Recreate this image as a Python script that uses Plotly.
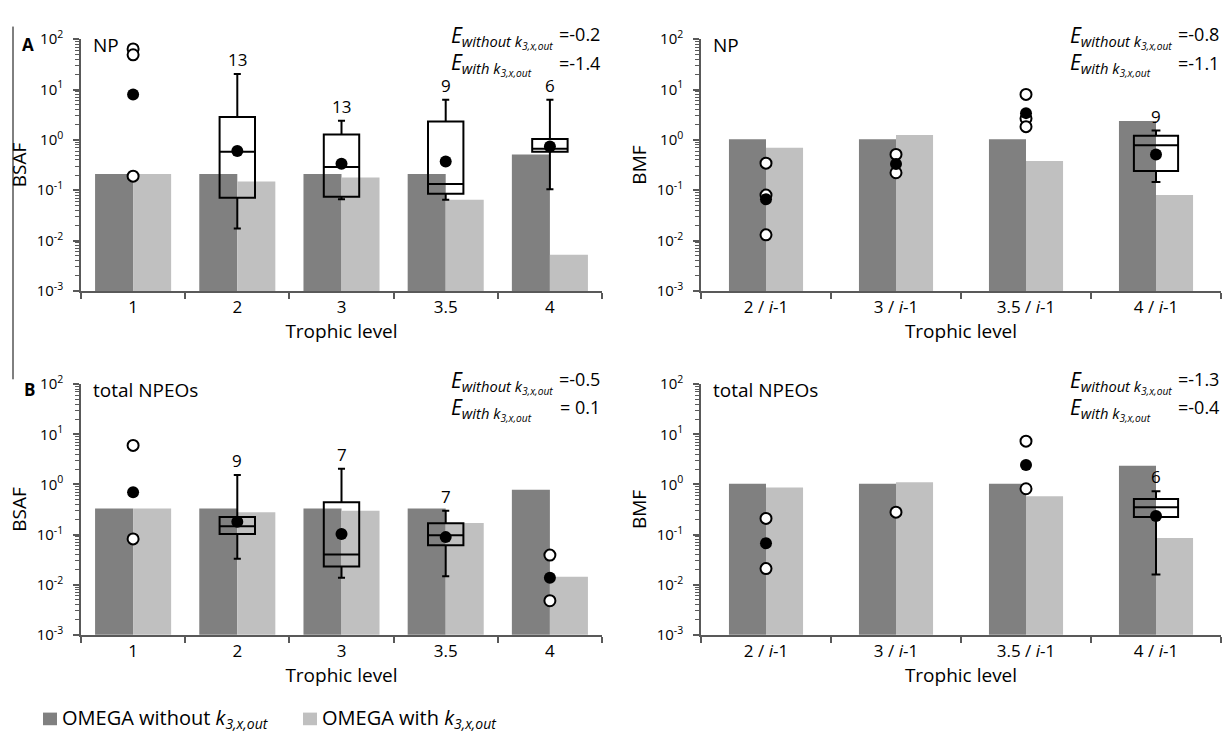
import math
import plotly.graph_objects as go

W, H = 1224, 742

# ---------------- data ----------------
cats_bsaf = ["1", "2", "3", "3.5", "4"]
cats_bmf = ["2 / <i>i</i>-1", "3 / <i>i</i>-1", "3.5 / <i>i</i>-1", "4 / <i>i</i>-1"]
ytick_vals = [1e-3, 1e-2, 1e-1, 1e0, 1e1, 1e2]
ytick_text = ["10<sup>-3</sup>", "10<sup>-2</sup>", "10<sup>-1</sup>",
              "10<sup>0</sup>", "10<sup>1</sup>", "10<sup>2</sup>"]

# A, left: NP BSAF
np_bsaf_without = [0.21, 0.21, 0.21, 0.21, 0.51]
np_bsaf_with = [0.21, 0.149, 0.178, 0.065, 0.0052]
np_bsaf_box_cats = ["2", "3", "3.5", "4"]
np_bsaf_q1 = [0.071, 0.074, 0.085, 0.58]
np_bsaf_median = [0.58, 0.29, 0.133, 0.67]
np_bsaf_q3 = [2.84, 1.28, 2.31, 1.04]
np_bsaf_low = [0.0174, 0.066, 0.065, 0.105]
np_bsaf_high = [20.4, 2.41, 6.28, 6.28]
np_bsaf_n = [13, 13, 9, 6]
np_bsaf_mean_cats = ["1", "2", "3", "3.5", "4"]
np_bsaf_mean = [8.0, 0.60, 0.336, 0.37, 0.74]
np_bsaf_open_cats = ["1", "1", "1"]
np_bsaf_open = [64, 49, 0.19]

# A, right: NP BMF
np_bmf_without = [1.03, 1.03, 1.03, 2.38]
np_bmf_with = [0.70, 1.25, 0.38, 0.080]
np_bmf_box_cats = [cats_bmf[3]]
np_bmf_q1 = [0.24]
np_bmf_median = [0.78]
np_bmf_q3 = [1.21]
np_bmf_low = [0.145]
np_bmf_high = [1.53]
np_bmf_n = [9]
np_bmf_mean_cats = [cats_bmf[0], cats_bmf[1], cats_bmf[2], cats_bmf[3]]
np_bmf_mean = [0.066, 0.33, 3.4, 0.51]
np_bmf_open_cats = [cats_bmf[0], cats_bmf[0], cats_bmf[0], cats_bmf[1], cats_bmf[1],
                    cats_bmf[2], cats_bmf[2], cats_bmf[2]]
np_bmf_open = [0.345, 0.08, 0.013, 0.515, 0.222, 8.0, 2.65, 1.83]

# B, left: total NPEOs BSAF
npeo_bsaf_without = [0.33, 0.33, 0.33, 0.33, 0.78]
npeo_bsaf_with = [0.33, 0.28, 0.30, 0.17, 0.0145]
npeo_bsaf_box_cats = ["2", "3", "3.5"]
npeo_bsaf_q1 = [0.103, 0.0232, 0.061]
npeo_bsaf_median = [0.146, 0.040, 0.097]
npeo_bsaf_q3 = [0.225, 0.44, 0.168]
npeo_bsaf_low = [0.033, 0.0138, 0.0147]
npeo_bsaf_high = [1.55, 2.05, 0.30]
npeo_bsaf_n = [9, 7, 7]
npeo_bsaf_mean_cats = ["1", "2", "3", "3.5", "4"]
npeo_bsaf_mean = [0.70, 0.18, 0.103, 0.089, 0.0138]
npeo_bsaf_open_cats = ["1", "1", "4", "4"]
npeo_bsaf_open = [6.0, 0.082, 0.039, 0.0048]

# B, right: total NPEOs BMF
npeo_bmf_without = [1.03, 1.03, 1.03, 2.35]
npeo_bmf_with = [0.87, 1.1, 0.58, 0.085]
npeo_bmf_box_cats = [cats_bmf[3]]
npeo_bmf_q1 = [0.225]
npeo_bmf_median = [0.35]
npeo_bmf_q3 = [0.51]
npeo_bmf_low = [0.016]
npeo_bmf_high = [0.73]
npeo_bmf_n = [6]
npeo_bmf_mean_cats = [cats_bmf[0], cats_bmf[2], cats_bmf[3]]
npeo_bmf_mean = [0.067, 2.45, 0.235]
npeo_bmf_open_cats = [cats_bmf[0], cats_bmf[0], cats_bmf[1], cats_bmf[2], cats_bmf[2]]
npeo_bmf_open = [0.21, 0.021, 0.28, 7.3, 0.82]

e_values = {
    "tl": ("-0.2", "-1.4"),
    "tr": ("-0.8", "-1.1"),
    "bl": ("-0.5", " 0.1"),
    "br": ("-1.3", "-0.4"),
}

# ---------------- style ----------------
FONT = "Open Sans"
DARK = "#808080"
LIGHT = "#c0c0c0"
AXIS_COL = "#595959"

# pixel geometry of the four panels (left, right, top, bottom)
geo = {
    "tl": (81, 602, 28, 287),
    "tr": (701, 1221, 28, 287),
    "bl": (81, 602, 383, 641),
    "br": (701, 1221, 383, 641),
}

fig = go.Figure()

panels = [
    ("tl", "x", "y", cats_bsaf, "BSAF", "NP", 0.365,
     np_bsaf_without, np_bsaf_with,
     (np_bsaf_box_cats, np_bsaf_q1, np_bsaf_median, np_bsaf_q3, np_bsaf_low, np_bsaf_high, np_bsaf_n),
     (np_bsaf_mean_cats, np_bsaf_mean), (np_bsaf_open_cats, np_bsaf_open)),
    ("tr", "x2", "y2", cats_bmf, "BMF", "NP", 0.285,
     np_bmf_without, np_bmf_with,
     (np_bmf_box_cats, np_bmf_q1, np_bmf_median, np_bmf_q3, np_bmf_low, np_bmf_high, np_bmf_n),
     (np_bmf_mean_cats, np_bmf_mean), (np_bmf_open_cats, np_bmf_open)),
    ("bl", "x3", "y3", cats_bsaf, "BSAF", "total NPEOs", 0.365,
     npeo_bsaf_without, npeo_bsaf_with,
     (npeo_bsaf_box_cats, npeo_bsaf_q1, npeo_bsaf_median, npeo_bsaf_q3, npeo_bsaf_low, npeo_bsaf_high, npeo_bsaf_n),
     (npeo_bsaf_mean_cats, npeo_bsaf_mean), (npeo_bsaf_open_cats, npeo_bsaf_open)),
    ("br", "x4", "y4", cats_bmf, "BMF", "total NPEOs", 0.285,
     npeo_bmf_without, npeo_bmf_with,
     (npeo_bmf_box_cats, npeo_bmf_q1, npeo_bmf_median, npeo_bmf_q3, npeo_bmf_low, npeo_bmf_high, npeo_bmf_n),
     (npeo_bmf_mean_cats, npeo_bmf_mean), (npeo_bmf_open_cats, npeo_bmf_open)),
]

minor_vals = [m * 10 ** e for e in range(-3, 2) for m in range(2, 10)]
annotations = []
layout_axes = {}

for key, xa, ya, cats, ytitle, label, bw, v_without, v_with, box, means, opens in panels:
    L, R, T, B = geo[key]
    fig.add_trace(go.Bar(x=cats, y=v_without, width=bw, offset=-bw, xaxis=xa, yaxis=ya,
                         marker=dict(color=DARK, line=dict(width=0)), showlegend=False,
                         hoverinfo="skip"))
    fig.add_trace(go.Bar(x=cats, y=v_with, width=bw, offset=0, xaxis=xa, yaxis=ya,
                         marker=dict(color=LIGHT, line=dict(width=0)), showlegend=False,
                         hoverinfo="skip"))
    bcats, q1, med, q3, lo, hi, nn = box
    fig.add_trace(go.Box(x=bcats, q1=q1, median=med, q3=q3, lowerfence=lo, upperfence=hi,
                         width=0.34, whiskerwidth=0.2, boxpoints=False,
                         line=dict(color="black", width=2), fillcolor="rgba(0,0,0,0)",
                         xaxis=xa, yaxis=ya, showlegend=False, hoverinfo="skip"))
    fig.add_trace(go.Scatter(x=opens[0], y=opens[1], mode="markers", xaxis=xa, yaxis=ya,
                             marker=dict(symbol="circle", size=11, color="white",
                                         line=dict(color="black", width=2)),
                             showlegend=False, hoverinfo="skip"))
    fig.add_trace(go.Scatter(x=means[0], y=means[1], mode="markers", xaxis=xa, yaxis=ya,
                             marker=dict(symbol="circle", size=12, color="black",
                                         line=dict(width=0)),
                             showlegend=False, hoverinfo="skip"))
    # n labels (category index positions)
    for c, h, n in zip(bcats, hi, nn):
        annotations.append(dict(x=cats.index(c), y=math.log10(h), xref=xa, yref=ya,
                                text=str(n), showarrow=False, yanchor="bottom", yshift=1,
                                font=dict(family=FONT, size=17, color="black")))
    # compound label
    annotations.append(dict(x=(L + 10) / W, y=1 - (T + 6) / H, xref="paper", yref="paper",
                            text=label, showarrow=False, xanchor="left", yanchor="middle",
                            font=dict(family=FONT, size=19, color="black")))
    # model efficiency labels
    e1, e2 = e_values[key]
    ex = (R - 153) / W
    annotations.append(dict(x=ex, y=1 - (T - 21) / H, xref="paper", yref="paper",
                            text="<i>E</i><sub><i>without k</i><sub><i>3,x,out</i></sub></sub>",
                            showarrow=False, xanchor="left", yanchor="top",
                            font=dict(family=FONT, size=21, color="black")))
    annotations.append(dict(x=R / W, y=1 - (T - 5) / H, xref="paper", yref="paper",
                            text="=" + e1, showarrow=False, xanchor="right", yanchor="middle",
                            font=dict(family=FONT, size=18, color="black")))
    annotations.append(dict(x=ex, y=1 - (T + 7) / H, xref="paper", yref="paper",
                            text="<i>E</i><sub><i>with k</i><sub><i>3,x,out</i></sub></sub>",
                            showarrow=False, xanchor="left", yanchor="top",
                            font=dict(family=FONT, size=21, color="black")))
    annotations.append(dict(x=R / W, y=1 - (T + 24) / H, xref="paper", yref="paper",
                            text="=" + e2, showarrow=False, xanchor="right", yanchor="middle",
                            font=dict(family=FONT, size=18, color="black")))

    xname = "xaxis" if xa == "x" else "xaxis" + xa[1:]
    yname = "yaxis" if ya == "y" else "yaxis" + ya[1:]
    layout_axes[xname] = dict(
        domain=[L / W, R / W], anchor=ya, type="category", categoryorder="array",
        categoryarray=cats, range=[-0.5, len(cats) - 0.5],
        showline=True, linecolor=AXIS_COL, linewidth=1.5,
        ticks="outside", tickson="boundaries", ticklen=6, tickcolor=AXIS_COL, tickwidth=1.5,
        tickfont=dict(family=FONT, size=17, color="black"),
        title=dict(text="Trophic level", standoff=5,
                   font=dict(family=FONT, size=19, color="black")),
        showgrid=False, zeroline=False, fixedrange=True)
    layout_axes[yname] = dict(
        domain=[1 - B / H, 1 - T / H], anchor=xa, type="log", range=[-3, 2],
        tickmode="array", tickvals=ytick_vals, ticktext=ytick_text,
        showline=True, linecolor=AXIS_COL, linewidth=1.5,
        ticks="outside", ticklen=6, tickcolor=AXIS_COL, tickwidth=1.5,
        ticklabelstandoff=7,
        minor=dict(tickmode="array", tickvals=minor_vals, ticks="outside", ticklen=4,
                   tickcolor=AXIS_COL, tickwidth=1),
        tickfont=dict(family=FONT, size=15, color="black"),
        title=dict(text=ytitle, standoff=5, font=dict(family=FONT, size=19, color="black")),
        showgrid=False, zeroline=False, fixedrange=True)

# panel letters
annotations.append(dict(x=20 / W, y=1 - 33 / H, xref="paper", yref="paper", text="<b>A</b>",
                        showarrow=False, yanchor="middle",
                        font=dict(family=FONT, size=17, color="black")))
annotations.append(dict(x=22 / W, y=1 - 389 / H, xref="paper", yref="paper", text="<b>B</b>",
                        showarrow=False, yanchor="middle",
                        font=dict(family=FONT, size=17, color="black")))

# legend (drawn manually) and the thin frame line at the left
shapes = [
    dict(type="line", xref="paper", yref="paper", x0=13 / W, x1=13 / W,
         y0=1 - 15 / H, y1=1 - 378 / H, line=dict(color="black", width=1)),
    dict(type="rect", xref="paper", yref="paper", x0=43 / W, x1=57 / W,
         y0=1 - 734 / H, y1=1 - 721 / H, fillcolor=DARK, line=dict(width=0)),
    dict(type="rect", xref="paper", yref="paper", x0=303 / W, x1=317 / W,
         y0=1 - 734 / H, y1=1 - 721 / H, fillcolor=LIGHT, line=dict(width=0)),
]
annotations.append(dict(x=60 / W, y=1 - 727 / H, xref="paper", yref="paper",
                        text="OMEGA without <i>k</i><sub><i>3,x,out</i></sub>",
                        showarrow=False, xanchor="left", yanchor="middle",
                        font=dict(family=FONT, size=20, color="black")))
annotations.append(dict(x=320 / W, y=1 - 727 / H, xref="paper", yref="paper",
                        text="OMEGA with <i>k</i><sub><i>3,x,out</i></sub>",
                        showarrow=False, xanchor="left", yanchor="middle",
                        font=dict(family=FONT, size=20, color="black")))

fig.update_layout(
    width=W, height=H, margin=dict(l=0, r=0, t=0, b=0),
    paper_bgcolor="white", plot_bgcolor="white",
    barmode="overlay", boxmode="overlay", showlegend=False,
    annotations=annotations, shapes=shapes,
    font=dict(family=FONT, color="black"),
    **layout_axes,
)

fig.write_html("out.html", config={"displayModeBar": False},
               post_script="document.body.style.margin='0px';")
